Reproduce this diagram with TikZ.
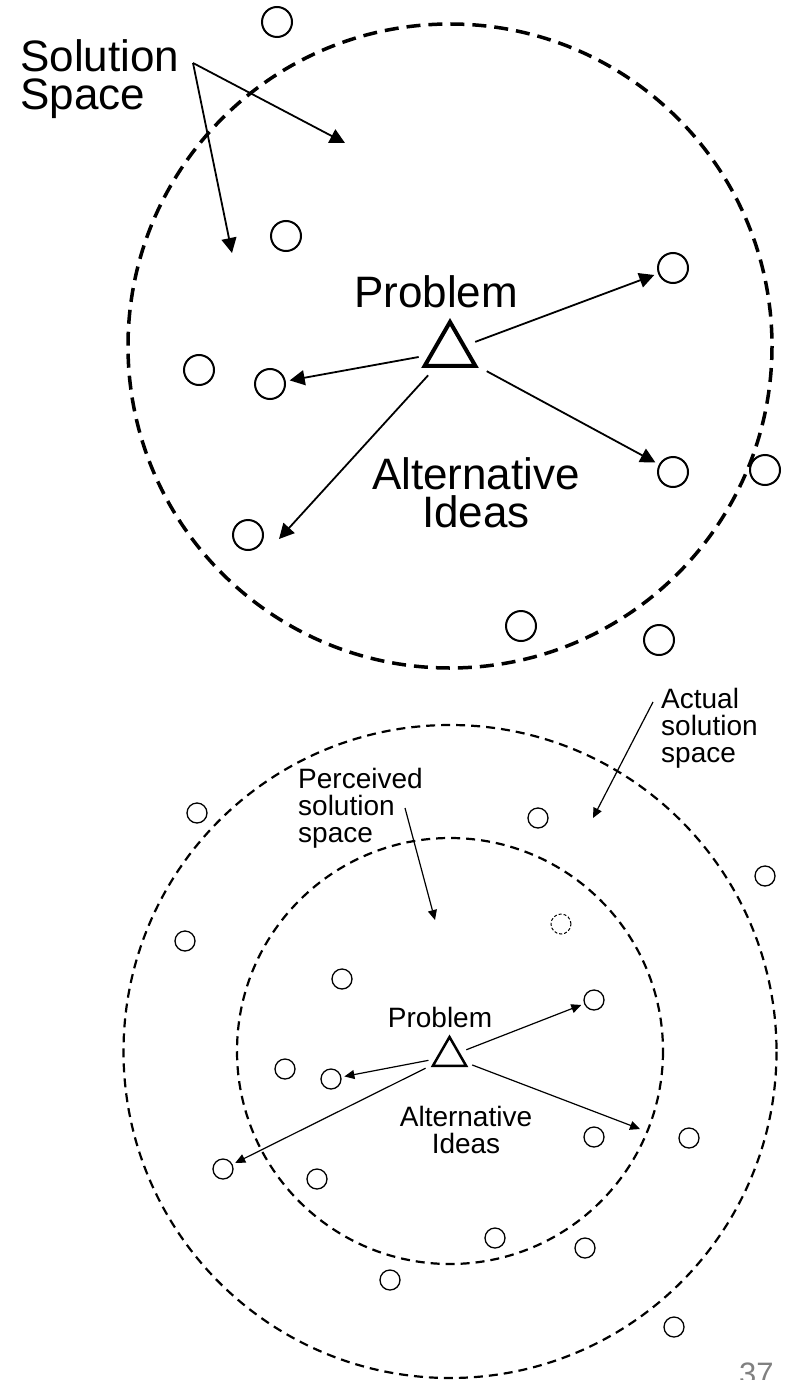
\documentclass[tikz,border=0pt]{standalone}
\usepackage{fontspec}
\setmainfont{Liberation Sans}
\usetikzlibrary{arrows.meta,shapes.geometric}

\begin{document}
\begin{tikzpicture}[x=1pt,y=-1pt,
    bigring/.style={line width=3.5pt,dash pattern=on 14pt off 8pt},
    ring/.style={line width=2.2pt,dash pattern=on 9pt off 6pt},
    idea/.style={circle,draw,line width=2pt,minimum size=30pt,inner sep=0pt},
    smallidea/.style={circle,draw,line width=1.3pt,minimum size=20pt,inner sep=0pt},
    probtri/.style={regular polygon,regular polygon sides=3,draw,inner sep=0pt},
    bigarrow/.style={-{Triangle[length=15pt,width=15pt]},line width=1.8pt},
    smallarrow/.style={-{Triangle[length=10pt,width=9pt]},line width=1.2pt},
    bigtext/.style={font=\fontsize{44}{38}\selectfont,inner sep=0pt,align=left},
    smalltext/.style={font=\fontsize{28}{27}\selectfont,inner sep=0pt,align=left}]
    \useasboundingbox (0,0) rectangle (790,1380);
    % upper picture
    \draw[bigring] (450,346) circle[radius=322];
    \node[bigtext,anchor=base west] (sol) at (20,110) {Solution\\Space};
    \node[bigtext,anchor=base] (prob) at (436,307) {Problem};
    \node[bigtext,anchor=base,align=center] (alt) at (476,527) {Alternative\\Ideas};
    \node[probtri,line width=4pt,minimum size=58.6pt] (tri) at (450,351.3) {};
    \node[idea] (a1) at (277,22) {};
    \node[idea] (a2) at (286,236) {};
    \node[idea] (a3) at (199,370) {};
    \node[idea] (a4) at (270,384) {};
    \node[idea] (a5) at (673,268) {};
    \node[idea] (a6) at (673,472) {};
    \node[idea] (a7) at (765,470) {};
    \node[idea] (a8) at (248,535) {};
    \node[idea] (a9) at (521,626) {};
    \node[idea] (a10) at (659,640) {};
    \coordinate (solfrom) at (193,63);
    \coordinate (soltip1) at (345,143);
    \coordinate (soltip2) at (232,253);
    \coordinate (alttip) at (279,539);
    \draw[bigarrow] (solfrom) -- (soltip1);
    \draw[bigarrow] (solfrom) -- (soltip2);
    \foreach \t in {a4,a5,a6}
        \draw[bigarrow,shorten <=10pt,shorten >=4pt] (tri) -- (\t);
    \draw[bigarrow,shorten <=10pt] (tri) -- (alttip);
    % lower picture
    \draw[ring] (450,1051.5) circle[radius=326.5];
    \draw[ring] (450,1051) circle[radius=213];
    \node[smalltext,anchor=base west] (act) at (661,762) {Actual\\solution\\space};
    \node[smalltext,anchor=base west] (perc) at (298,842) {Perceived\\solution\\space};
    \node[smalltext,anchor=base] (prob2) at (440,1027) {Problem};
    \node[smalltext,anchor=base,align=center] (alt2) at (466,1153) {Alternative\\Ideas};
    \node[probtri,line width=2.5pt,minimum size=38.6pt] (tri2) at (449.5,1056.3) {};
    \node[smallidea] (b1) at (197,813) {};
    \node[smallidea] (b2) at (538,818) {};
    \node[smallidea] (b3) at (765,876) {};
    \node[smallidea] (b4) at (185,941) {};
    \node[smallidea,dash pattern=on 3pt off 2pt,line width=1pt] (b5) at (561,924) {};
    \node[smallidea] (b6) at (342,979) {};
    \node[smallidea] (b7) at (594,1000) {};
    \node[smallidea] (b8) at (285,1069) {};
    \node[smallidea] (b9) at (331,1079) {};
    \node[smallidea] (b10) at (223,1169) {};
    \node[smallidea] (b11) at (317,1179) {};
    \node[smallidea] (b12) at (594,1137) {};
    \node[smallidea] (b13) at (689,1138) {};
    \node[smallidea] (b14) at (495,1238) {};
    \node[smallidea] (b15) at (585,1248) {};
    \node[smallidea] (b16) at (390,1280) {};
    \node[smallidea] (b17) at (674,1327) {};
    \coordinate (actfrom) at (653,702);
    \coordinate (acttip) at (593,818);
    \coordinate (percfrom) at (405,808);
    \coordinate (perctip) at (435,920);
    \coordinate (edgetip) at (640,1129);
    \draw[smallarrow] (actfrom) -- (acttip);
    \draw[smallarrow] (percfrom) -- (perctip);
    \foreach \t in {b7,b9,b10}
        \draw[smallarrow,shorten <=7pt,shorten >=3pt] (tri2) -- (\t);
    \draw[smallarrow,shorten <=7pt] (tri2) -- (edgetip);
    \node[anchor=base west,inner sep=0pt,text=gray,font=\fontsize{31}{31}\selectfont] (page) at (739,1384) {37};
\end{tikzpicture}
\end{document}
